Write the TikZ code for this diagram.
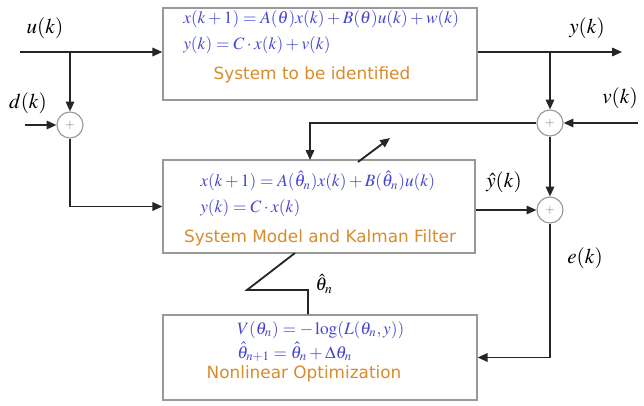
\documentclass[tikz,border=0pt]{standalone}
\usepackage{mathptmx}
\usepackage[no-math]{fontspec}
\newfontfamily\titlefont{DejaVu Sans}
\usetikzlibrary{arrows.meta}

\definecolor{eqblue}{RGB}{70,70,205}
\definecolor{titleorange}{RGB}{215,140,45}
\def\px{0.025cm}

\begin{document}
\begin{tikzpicture}[x=\px, y=-\px,
    blk/.style={draw=gray!80, line width=0.9pt, fill=white, inner sep=0pt},
    eq/.style={anchor=west, text=eqblue, inner sep=0pt, font=\fontsize{12.3}{14}\selectfont},
    ttl/.style={text=titleorange, inner sep=0pt, font=\titlefont\fontsize{12}{14}\selectfont},
    sig/.style={inner sep=0pt, font=\fontsize{15}{17}\selectfont},
    sumnode/.style={circle, draw=gray!80, line width=0.8pt, fill=white, minimum size=0.65cm, inner sep=0pt, text=gray, font=\small},
    wire/.style={line width=1.3pt, draw=black!85},
    arr/.style={wire, -{Triangle[length=7pt,width=6pt]}}]
      \useasboundingbox (0,0) rectangle (644,406);

      % blocks
      \node[blk, minimum width=7.85cm, minimum height=2.3cm] (sys) at (320,54) {};
      \node[blk, minimum width=7.8cm, minimum height=2.325cm] (model) at (319,206.5) {};
      \node[blk, minimum width=7.85cm, minimum height=2.125cm] (opt) at (320,357.5) {};

      % block texts
      \node[eq] (syseqa) at (183,19) {$x(k+1)=A(\theta)x(k)+B(\theta)u(k)+w(k)$};
      \node[eq] (syseqb) at (183,45) {$y(k)=C\cdot x(k)+v(k)$};
      \node[ttl] (systtl) at (312,75) {System to be identified};
      \node[eq] (modeqa) at (200,181) {$x(k+1)=A(\hat{\theta}_n)x(k)+B(\hat{\theta}_n)u(k)$};
      \node[eq] (modeqb) at (200,208) {$y(k)=C\cdot x(k)$};
      \node[ttl] (modttl) at (320,238) {System Model and Kalman Filter};
      \node[eq] (opteqa) at (237,330) {$V(\theta_n)=-\log(L(\theta_n,y))$};
      \node[eq] (opteqb) at (237,352) {$\hat{\theta}_{n+1}=\hat{\theta}_n+\Delta\theta_n$};
      \node[ttl] (optttl) at (304,374) {Nonlinear Optimization};

      % summing points
      \node[sumnode] (sumd) at (70,125) {$+$};
      \node[sumnode] (sumv) at (550,123) {$+$};
      \node[sumnode] (sume) at (550,210) {$+$};

      % signal labels
      \node[sig] (ulbl) at (45,28) {$u(k)$};
      \node[sig] (dlbl) at (28,103) {$d(k)$};
      \node[sig] (ylbl) at (587,28) {$y(k)$};
      \node[sig] (vlbl) at (620,98) {$v(k)$};
      \node[sig] (yhlbl) at (504,182) {$\hat{y}(k)$};
      \node[sig] (elbl) at (585,258) {$e(k)$};
      \node[sig, font=\fontsize{13}{15}\selectfont] (thlbl) at (324,284) {$\hat{\theta}_n$};

      \coordinate (uin) at (20,52);
      \coordinate (ubr) at (70,52);
      \coordinate (din) at (25,125);
      \coordinate (yout) at (622,52);
      \coordinate (ybr) at (550,52);
      \coordinate (vin) at (638,123);
      \coordinate (fbin) at (310,160);
      \coordinate (tunea) at (358,162);
      \coordinate (tuneb) at (390,138);
      \coordinate (tha) at (308,290);
      \coordinate (thb) at (247,290);
      \coordinate (thc) at (295,253);

      % connections
      \draw[arr] (uin) -- (uin -| sys.west);
      \draw[arr] (ubr) -- (sumd);
      \draw[arr] (din) -- (sumd);
      \draw[arr] (sumd) |- (model.west);
      \draw[arr] (uin -| sys.east) -- (yout);
      \draw[arr] (ybr) -- (sumv);
      \draw[arr] (vin) -- (sumv);
      \draw[arr] (sumv) -| (fbin);
      \draw[arr] (sumv) -- (sume);
      \draw[arr] (sume -| model.east) -- (sume);
      \draw[arr] (sume) |- (opt.east);
      \draw[arr] (tunea) -- (tuneb);
      \draw[wire] (tha |- opt.north) -- (tha) -- (thb) -- (thc);
    \end{tikzpicture}
\end{document}
